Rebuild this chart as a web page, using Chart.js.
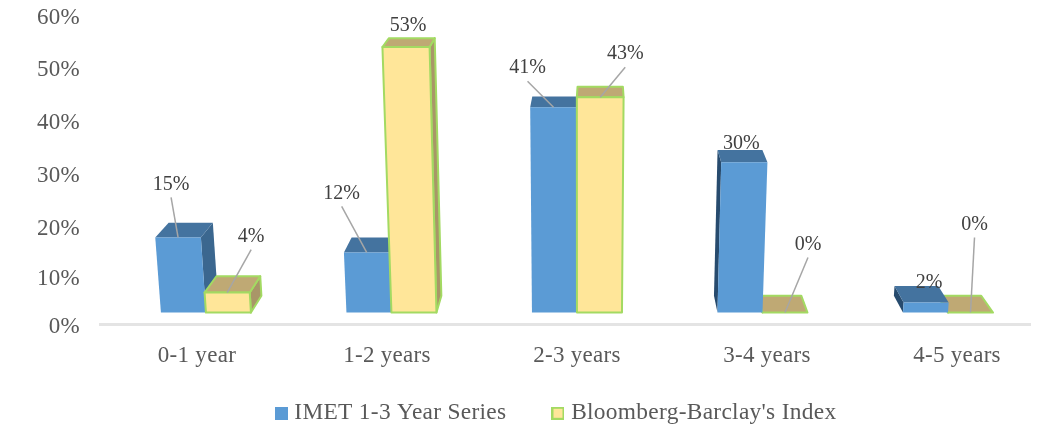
<!DOCTYPE html>
<html>
<head>
<meta charset="utf-8">
<style>
  html, body { margin: 0; padding: 0; background: #fff; }
  canvas { display: block; filter: blur(0.5px); }
</style>
<script src="https://cdn.jsdelivr.net/npm/chart.js@4/dist/chart.umd.min.js"></script>
</head>
<body>
<canvas id="durationChart" width="1042" height="431"></canvas>
<script>
const categories = ['0-1 year', '1-2 years', '2-3 years', '3-4 years', '4-5 years'];
const imetValues = [15, 12, 41, 30, 2];
const bloombergValues = [4, 53, 43, 0, 0];
const tickLabels = ['0%', '10%', '20%', '30%', '40%', '50%', '60%'];
// the printed ticks are not quite evenly spaced in the picture
const tickValues = [0, 9.35, 18.9, 29.2, 39.55, 49.87, 60];

// where each value label sits relative to the top of its bar
const imetLabelOffsets = [[-7, -53], [-25, -59], [-26, -39], [-3, -19], [3, -20]];
const bloombergLabelOffsets = [[24, -56], [2, -21], [25, -43], [23, -68], [4, -88]];

const SERIF = '"Liberation Serif", "Times New Roman", serif';
const depthColors = [
  { top: '#44739f', right: '#3b678f', left: '#274b6e' },
  { top: '#bfa974', right: '#a99668', left: '#a99668' }
];

// fake 3d: back faces shrink towards a point above the plot
const vanish = { x: 600, y: -250 };
const depth = 0.97;
function toBack(p) {
  return { x: vanish.x + depth * (p.x - vanish.x), y: vanish.y + depth * (p.y - vanish.y) };
}
function lean(x, h) {
  return x + (x - 580) * 0.00018 * h;
}
function fillPoly(ctx, pts, color, stroke, lineWidth) {
  ctx.beginPath();
  pts.forEach((p, i) => i ? ctx.lineTo(p.x, p.y) : ctx.moveTo(p.x, p.y));
  ctx.closePath();
  ctx.fillStyle = color;
  ctx.fill();
  if (lineWidth) {
    ctx.strokeStyle = stroke;
    ctx.lineWidth = lineWidth;
    ctx.lineJoin = 'round';
    ctx.stroke();
  }
}

function drawBar3d(ctx, el, colors) {
  const o = el.options;
  const h = el.base - el.y;
  const left = el.x - el.width / 2, right = el.x + el.width / 2;
  const bl = { x: left, y: el.base }, br = { x: right, y: el.base };
  const tl = { x: lean(left, h), y: el.y }, tr = { x: lean(right, h), y: el.y };
  const stroke = o.borderColor, lw = o.borderWidth;
  if (right < vanish.x) fillPoly(ctx, [tr, toBack(tr), toBack(br), br], colors.right, stroke, lw);
  if (left > vanish.x) fillPoly(ctx, [tl, toBack(tl), toBack(bl), bl], colors.left, stroke, lw);
  fillPoly(ctx, [tl, toBack(tl), toBack(tr), tr], colors.top, stroke, lw);
  if (h > 0) fillPoly(ctx, [tl, tr, br, bl], o.backgroundColor, stroke, lw);
}

const bars3d = {
  id: 'bars3d',
  beforeLayout(chart) {
    chart.ctx.letterSpacing = '0.3px';
  },
  afterLayout(chart) {
    // legend sits a little left of the plot centre
    chart.legend.left -= 7;
    chart.legend.right -= 7;
  },
  beforeDraw(chart) {
    chart.ctx.letterSpacing = '0.3px';
  },
  // the faces are painted per category, so the plain rectangles are skipped
  beforeDatasetDraw() {
    return false;
  },
  beforeDatasetsDraw(chart) {
    const ctx = chart.ctx;
    categories.forEach((c, i) => {
      const first = chart.getDatasetMeta(0).data[i];
      // past the vanishing point the left bar is the nearer one
      const order = first.x - first.width / 2 > vanish.x ? [1, 0] : [0, 1];
      order.forEach(d => drawBar3d(ctx, chart.getDatasetMeta(d).data[i], depthColors[d]));
    });
  },
  afterDatasetsDraw(chart) {
    const ctx = chart.ctx;
    ctx.save();
    ctx.letterSpacing = '0px';
    ctx.font = '20px ' + SERIF;
    ctx.textAlign = 'center';
    ctx.textBaseline = 'middle';
    chart.data.datasets.forEach((ds, d) => {
      const offsets = d === 0 ? imetLabelOffsets : bloombergLabelOffsets;
      chart.getDatasetMeta(d).data.forEach((el, i) => {
        const ax = lean(el.x, el.base - el.y), ay = el.y;
        const [dx, dy] = offsets[i];
        if (dy < -30) {
          ctx.beginPath();
          ctx.moveTo(ax + dx, ay + dy + 13);
          ctx.lineTo(ax, ay);
          ctx.strokeStyle = '#a6a6a6';
          ctx.lineWidth = 1.5;
          ctx.stroke();
        }
        ctx.fillStyle = '#404040';
        ctx.fillText(ds.data[i].y + '%', ax + dx, ay + dy);
      });
    });
    ctx.restore();
  }
};

// legend swatches, wider than the box the legend reserves so the text sits close
function legendBox(fill, stroke) {
  const c = document.createElement('canvas');
  c.width = 13;
  c.height = 13;
  const g = c.getContext('2d');
  g.fillStyle = fill;
  g.fillRect(0, 0, 13, 13);
  if (stroke) {
    g.strokeStyle = stroke;
    g.lineWidth = 2;
    g.strokeRect(1, 1, 11, 11);
  }
  return c;
}

new Chart(document.getElementById('durationChart'), {
  type: 'bar',
  data: {
    datasets: [
      {
        label: 'IMET 1-3 Year Series',
        data: imetValues.map((v, i) => ({ x: i, y: v })),
        backgroundColor: '#5b9bd5',
        borderColor: '#5b9bd5',
        borderWidth: 0,
        barThickness: 45,
        xAxisID: 'xBars',
        yAxisID: 'yBars'
      },
      {
        label: "Bloomberg-Barclay's Index",
        data: bloombergValues.map((v, i) => ({ x: i, y: v })),
        backgroundColor: '#ffe699',
        borderColor: '#a3da62',
        borderWidth: 2,
        barThickness: 45,
        xAxisID: 'xBars',
        yAxisID: 'yBars'
      }
    ]
  },
  plugins: [bars3d],
  options: {
    responsive: false,
    devicePixelRatio: 1,
    animation: false,
    events: [],
    layout: { padding: { top: 16, right: 12, bottom: -4, left: 0 } },
    plugins: {
      tooltip: { enabled: false },
      legend: {
        position: 'bottom',
        fullSize: false,
        labels: {
          usePointStyle: true,
          pointStyleWidth: 3,
          boxHeight: 13,
          padding: 50,
          color: '#595959',
          font: { family: SERIF, size: 23.4 },
          generateLabels(chart) {
            const items = Chart.defaults.plugins.legend.labels.generateLabels(chart);
            items[0].pointStyle = legendBox('#5b9bd5');
            items[1].pointStyle = legendBox('#ffe699', '#a3da62');
            return items;
          }
        }
      }
    },
    scales: {
      // the bars stand on their own floor, a little above the 0% tick
      xBars: { type: 'linear', display: false, offset: false, min: -0.571, max: 4.442 },
      yBars: { type: 'linear', display: false, min: -2.4, max: 59.2 },
      x: {
        type: 'linear',
        position: 'bottom',
        offset: false,
        min: -0.51,
        max: 4.384,
        afterBuildTicks(axis) {
          axis.ticks = categories.map((c, i) => ({ value: i }));
        },
        afterFit(axis) {
          axis.height = 27;
          axis.paddingLeft = 0;
          axis.paddingRight = 0;
        },
        grid: { display: false, drawTicks: false },
        border: { display: true, color: '#e4e4e4', width: 3 },
        ticks: {
          autoSkip: false,
          maxRotation: 0,
          // mirror stops the axis clipping its labels to the short box
          mirror: true,
          padding: -45,
          color: '#595959',
          font: { family: SERIF, size: 23 },
          callback: v => categories[v]
        }
      },
      y: {
        type: 'linear',
        position: 'left',
        min: 0,
        max: 60,
        afterBuildTicks(axis) {
          axis.ticks = tickValues.map(v => ({ value: v }));
        },
        afterFit(axis) {
          axis.width = 100;
          axis.paddingTop = 0;
          axis.paddingBottom = 0;
        },
        grid: { display: false, drawTicks: false },
        border: { display: false },
        ticks: {
          padding: 20,
          labelOffset: 2,
          color: '#595959',
          font: { family: SERIF, size: 23 },
          callback: (v, i) => tickLabels[i]
        }
      }
    }
  }
});
</script>
</body>
</html>
